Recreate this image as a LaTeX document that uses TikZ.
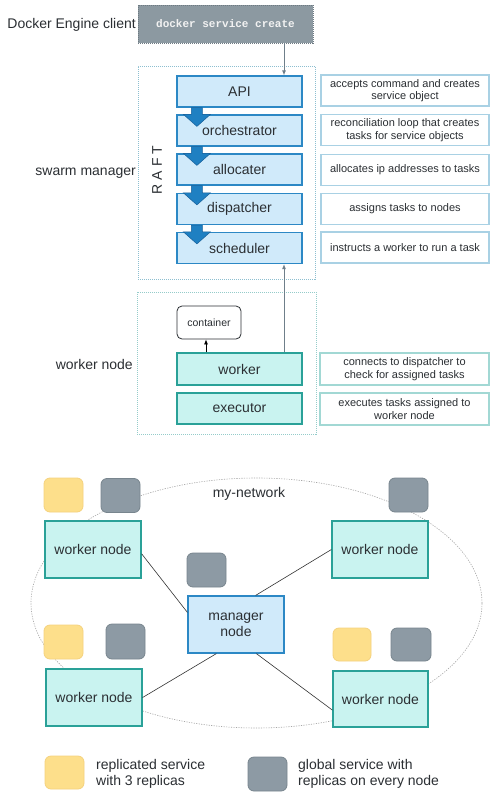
\documentclass[tikz,border=0pt]{standalone}
\usepackage{fontspec}
\setmainfont{Liberation Sans}
\setmonofont{Liberation Mono}
\usetikzlibrary{arrows.meta,calc,shapes.geometric}
\definecolor{txt}{HTML}{2B2F33}
\definecolor{bfill}{HTML}{D0EAFA}
\definecolor{bline}{HTML}{2C88C5}
\definecolor{tfill}{HTML}{C9F3F0}
\definecolor{tline}{HTML}{2AA198}
\definecolor{dline}{HTML}{A9D1E4}
\definecolor{dtline}{HTML}{A2D8D4}
\definecolor{arrfill}{HTML}{1F80C2}
\definecolor{arrline}{HTML}{17609A}
\definecolor{ylw}{HTML}{FDDF8B}
\definecolor{ylwl}{HTML}{F5D27E}
\definecolor{gry}{HTML}{8D9AA4}
\definecolor{gryl}{HTML}{78858E}
\definecolor{dock}{HTML}{8C99A1}
\definecolor{dockl}{HTML}{6E7A82}
\definecolor{dotb}{HTML}{8DBFD0}
\definecolor{dott}{HTML}{95CCCA}
\definecolor{conn}{HTML}{6F7F8A}
\tikzset{
  lbl/.style={font=\fontsize{14}{16}\selectfont, text=txt, inner sep=0pt},
  mbox/.style={draw=bline, fill=bfill, line width=1.2pt, minimum width=125pt, minimum height=31pt, inner sep=0pt, font=\fontsize{14}{16}\selectfont, text=txt},
  wbox/.style={draw=tline, fill=tfill, line width=1.2pt, minimum width=125pt, minimum height=31pt, inner sep=0pt, font=\fontsize{14}{16}\selectfont, text=txt},
  desc/.style={draw=dline, fill=white, line width=1.3pt, minimum width=168pt, minimum height=31pt, inner sep=0pt, align=center, font=\fontsize{11}{12.5}\selectfont, text=txt},
  desct/.style={desc, draw=dtline},
  nodebox/.style={draw=tline, fill=tfill, line width=1.2pt, minimum width=96pt, minimum height=57pt, inner sep=0pt, align=center, font=\fontsize{14}{16}\selectfont, text=txt},
  mgrbox/.style={nodebox, draw=bline, fill=bfill},
  ysq/.style={draw=ylwl, fill=ylw, line width=0.8pt, rounded corners=6pt, minimum width=39pt, minimum height=34pt, inner sep=0pt},
  gsq/.style={draw=gryl, fill=gry, line width=0.8pt, rounded corners=6pt, minimum width=39pt, minimum height=34pt, inner sep=0pt},
  link/.style={draw=black!80, line width=0.6pt},
  uparrow/.style={draw=conn, line width=0.9pt, -{Latex[length=5pt,width=4pt]}},
  dotframe/.style={draw=dotb, line width=1pt, dash pattern=on 1pt off 1pt},
}
\begin{document}
\begin{tikzpicture}[x=1pt,y=-1pt]
\useasboundingbox (0,0) rectangle (498,798);
\fill[white] (0,0) rectangle (498,798);

% ---------- top: client ----------
\node[draw=dockl, fill=dock, dash pattern=on 1pt off 1pt, line width=0.8pt, minimum width=175pt, minimum height=38pt, inner sep=0pt, text=white!95!black, font=\ttfamily\bfseries\fontsize{11}{12}\selectfont] (docker) at (225.5,24) {docker service create};
\node[lbl, anchor=east] (lclient) at (136,25) {Docker Engine client};

% ---------- swarm manager ----------
\node[dotframe, minimum width=177pt, minimum height=213pt, inner sep=0pt] (mframe) at (226.5,172.5) {};
\node[lbl, anchor=east] (lswarm) at (136,173) {swarm manager};
\node[lbl, rotate=90] (raft) at (157,170) {R A F T};

\node[mbox] (api) at (239.5,91.5) {API};
\node[mbox] (orch) at (239.5,130.5) {orchestrator};
\node[mbox] (alloc) at (239.5,169.5) {allocater};
\node[mbox] (disp) at (239.5,209) {dispatcher};
\node[mbox] (sched) at (239.5,248) {scheduler};

\foreach \a/\b in {api/orch, orch/alloc, alloc/disp, disp/sched}{
  \filldraw[fill=arrfill, draw=arrline, line width=0.5pt, line join=miter]
    ($(\a.south west)+(15,0)$) -- ($(\b.north west)+(15,0)$) -- ($(\b.north west)+(7,0)$)
    -- ($(\b.north west)+(20.5,12)$) -- ($(\b.north west)+(34,0)$) -- ($(\b.north west)+(26,0)$)
    -- ($(\a.south west)+(26,0)$) -- cycle;
}

\node[desc] (dapi) at (405,90.5) {accepts command and creates\\service object};
\node[desc] (dorch) at (405,130) {reconciliation loop that creates\\tasks for service objects};
\node[desc] (dalloc) at (405,170) {allocates ip addresses to tasks};
\node[desc] (ddisp) at (405,209) {assigns tasks to nodes};
\node[desc] (dsched) at (405,247.5) {instructs a worker to run a task};

\coordinate (upx) at (284,0);
\draw[uparrow] (docker.south -| upx) -- (api.north -| upx);

% ---------- worker node ----------
\node[dotframe, draw=dott, minimum width=179pt, minimum height=142pt, inner sep=0pt] (wframe) at (226.5,363) {};
\node[lbl, anchor=east] (lworker) at (133,364) {worker node};
\node[draw=txt, fill=white, line width=0.8pt, rounded corners=5pt, minimum width=64pt, minimum height=33pt, inner sep=0pt, font=\fontsize{10.5}{12}\selectfont, text=txt] (cont) at (209,322.5) {container};
\node[wbox, minimum height=32pt] (worker) at (239.5,369) {worker};
\node[wbox] (exec) at (239.5,408.5) {executor};
\node[desct, minimum width=169pt, minimum height=32pt] (dworker) at (404.5,369) {connects to dispatcher to\\check for assigned tasks};
\node[desct, minimum width=169pt, minimum height=32pt] (dexec) at (404.5,409) {executes tasks assigned to\\worker node};

\coordinate (ctx) at (206,0);
\draw[draw=black, line width=0.8pt, -{Latex[length=5pt,width=4pt]}] (worker.north -| ctx) -- (cont.south -| ctx);
\draw[uparrow] (worker.north -| upx) -- (sched.south -| upx);

% ---------- network ----------
\node[draw=black!35, line width=0.6pt, dash pattern=on 1.2pt off 1.3pt, ellipse, minimum width=451pt, minimum height=250pt, inner sep=0pt] (net) at (256.5,603) {};
\node[lbl] (lnet) at (249,494) {my-network};

\node[nodebox] (wtl) at (93,549.5) {worker node};
\node[nodebox] (wtr) at (380,549.5) {worker node};
\node[nodebox] (wbl) at (94,697.5) {worker node};
\node[nodebox, minimum height=56pt, minimum width=95pt] (wbr) at (380.5,699) {worker node};
\node[mgrbox] (mgr) at (236,624.5) {manager\\node};

\node[ysq] (ytl) at (63.5,495) {};
\node[gsq] (gtl) at (120.5,495.5) {};
\node[gsq] (gtr) at (408.5,495) {};
\node[gsq] (gmgr) at (206.5,570) {};
\node[ysq] (ybl) at (63.5,642) {};
\node[gsq, minimum height=35pt] (gbl) at (125.5,641.5) {};
\node[ysq, minimum width=38pt, minimum height=33pt] (ybr) at (352,644.5) {};
\node[gsq, minimum width=40pt, minimum height=33pt] (gbr) at (411,644.5) {};

\draw[link] (wtl.-5) -- (mgr.166);
\draw[link] (wtr.west) -- (mgr.56);
\draw[link] (mgr.236) -- (wbl.east);
\draw[link] (mgr.-55) -- (wbr.193);

% ---------- legend ----------
\node[ysq, minimum height=33pt] (ylg) at (64.5,772.5) {};
\node[gsq] (glg) at (267.5,774) {};
\node[lbl, anchor=west, align=left, font=\fontsize{14}{16}\selectfont] (tylg) at (96,774) {replicated service\\with 3 replicas};
\node[lbl, anchor=west, align=left, font=\fontsize{14}{16}\selectfont] (tglg) at (298,774) {global service with\\replicas on every node};
\end{tikzpicture}
\end{document}
